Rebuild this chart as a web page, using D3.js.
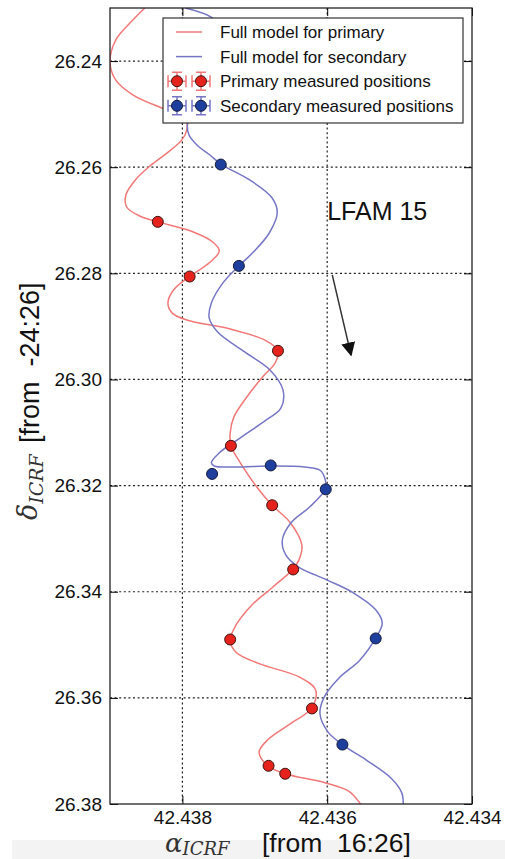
<!DOCTYPE html>
<html>
<head>
<meta charset="utf-8">
<script src="https://cdn.jsdelivr.net/npm/d3@7"></script>
<style>
  html, body { margin: 0; padding: 0; background: #fff; }
  svg { display: block; font-family: "Liberation Sans", Arial, sans-serif; }
  .pre { white-space: pre; }
</style>
</head>
<body>
<div id="chart"></div>
<script>
// axis ticks
const xTicks = [42.438, 42.436, 42.434]
const yTicks = [26.24, 26.26, 26.28, 26.30, 26.32, 26.34, 26.36, 26.38]

// measured positions (alpha seconds, delta arcsec)
const primaryRA  = [42.43834, 42.43790, 42.43668, 42.43733, 42.43676, 42.43647, 42.43734, 42.43621, 42.43681, 42.43658]
const primaryDec = [26.2703, 26.2806, 26.2946, 26.3125, 26.3237, 26.3358, 26.3490, 26.3620, 26.3728, 26.3743]
const secondaryRA  = [42.43747, 42.43722, 42.43678, 42.43759, 42.43602, 42.43533, 42.43579]
const secondaryDec = [26.2595, 26.2786, 26.3162, 26.3178, 26.3207, 26.3488, 26.3688]

// full model tracks
const primaryModelRA = [42.43852, 42.43875, 42.43892, 42.43900, 42.43892, 42.43868, 42.43831, 42.43810, 42.43795, 42.43794,
  42.43801, 42.43821, 42.43845, 42.43865, 42.43878, 42.43877, 42.43859, 42.43834, 42.43785, 42.43758,
  42.43749, 42.43762, 42.43791, 42.43812, 42.43820, 42.43814, 42.43794, 42.43734, 42.43686, 42.43668,
  42.43672, 42.43689, 42.43711, 42.43729, 42.43734, 42.43733, 42.43720, 42.43697, 42.43676, 42.43651,
  42.43635, 42.43639, 42.43647, 42.43675, 42.43704, 42.43726, 42.43734, 42.43726, 42.43693, 42.43638,
  42.43616, 42.43621, 42.43651, 42.43682, 42.43694, 42.43682, 42.43658, 42.43603, 42.43569, 42.43552]
const primaryModelDec = [26.2300, 26.2332, 26.2360, 26.2402, 26.2436, 26.2464, 26.2487, 26.2498, 26.2513, 26.2530,
  26.2549, 26.2573, 26.2598, 26.2624, 26.2652, 26.2675, 26.2692, 26.2703, 26.2722, 26.2741,
  26.2758, 26.2779, 26.2807, 26.2831, 26.2856, 26.2875, 26.2888, 26.2905, 26.2926, 26.2946,
  26.2969, 26.2995, 26.3033, 26.3071, 26.3101, 26.3125, 26.3157, 26.3203, 26.3237, 26.3270,
  26.3312, 26.3340, 26.3357, 26.3391, 26.3425, 26.3463, 26.3491, 26.3514, 26.3536, 26.3561,
  26.3585, 26.3619, 26.3649, 26.3679, 26.3702, 26.3728, 26.3743, 26.3760, 26.3777, 26.3804]

const secondaryModelRA = [42.43796, 42.43758, 42.43731, 42.43734, 42.43769, 42.43792, 42.43791, 42.43780, 42.43762, 42.43747,
  42.43707, 42.43676, 42.43669, 42.43680, 42.43702, 42.43722, 42.43744, 42.43760, 42.43763, 42.43751,
  42.43714, 42.43679, 42.43661, 42.43664, 42.43686, 42.43720, 42.43748, 42.43760, 42.43756, 42.43727,
  42.43678, 42.43631, 42.43609, 42.43602, 42.43602, 42.43624, 42.43650, 42.43662, 42.43657, 42.43640,
  42.43600, 42.43564, 42.43533, 42.43524, 42.43533, 42.43555, 42.43584, 42.43604, 42.43610, 42.43599,
  42.43578, 42.43544, 42.43512, 42.43497, 42.43495]
const secondaryModelDec = [26.2300, 26.2319, 26.2360, 26.2426, 26.2483, 26.2515, 26.2539, 26.2558, 26.2577, 26.2594,
  26.2624, 26.2658, 26.2686, 26.2724, 26.2760, 26.2786, 26.2818, 26.2856, 26.2884, 26.2911,
  26.2948, 26.2982, 26.3020, 26.3054, 26.3078, 26.3110, 26.3137, 26.3157, 26.3163, 26.3165,
  26.3163, 26.3165, 26.3172, 26.3193, 26.3206, 26.3240, 26.3270, 26.3303, 26.3331, 26.3353,
  26.3378, 26.3402, 26.3434, 26.3459, 26.3487, 26.3529, 26.3563, 26.3598, 26.3630, 26.3664,
  26.3689, 26.3719, 26.3751, 26.3779, 26.3804]

const legendLabels = ["Full model for primary", "Full model for secondary",
  "Primary measured positions", "Secondary measured positions"]

// proper motion arrow (start, end) and source label
const arrowRA = [42.43593, 42.43567]
const arrowDec = [26.2803, 26.2954]
const sourceName = "LFAM 15"

const W = 505, H = 859
const margin = {top: 8, right: 33, bottom: 55, left: 110}

const redLine = "#f27878", blueLine = "#7676c6"
const redDot = "#e5221c", blueDot = "#1f3f9e"

const x = d3.scaleLinear().domain([42.439, 42.434]).range([margin.left, W - margin.right])
const y = d3.scaleLinear().domain([26.23, 26.38]).range([margin.top, H - margin.bottom])

const svg = d3.select("#chart").append("svg")
    .attr("width", W)
    .attr("height", H)

svg.append("rect")
    .attr("width", W).attr("height", H).attr("fill", "#fff")

// light strip behind x label (from the screenshot)
svg.append("rect")
    .attr("x", 12).attr("y", 840)
    .attr("width", W - 12).attr("height", H - 840)
    .attr("fill", "#f3f3f3")

svg.append("defs").append("clipPath").attr("id", "plotclip")
  .append("rect")
    .attr("x", x.range()[0]).attr("y", y.range()[0])
    .attr("width", x.range()[1] - x.range()[0])
    .attr("height", y.range()[1] - y.range()[0])

svg.select("defs").append("marker")
    .attr("id", "head")
    .attr("viewBox", "0 0 10 10")
    .attr("refX", 9).attr("refY", 5)
    .attr("markerWidth", 14).attr("markerHeight", 14)
    .attr("markerUnits", "userSpaceOnUse")
    .attr("orient", "auto")
  .append("path")
    .attr("d", "M0,0L10,5L0,10Z")
    .attr("fill", "#111")

// grid
const grid = svg.append("g")
    .attr("stroke", "#222")
    .attr("stroke-width", 1.2)
    .attr("stroke-dasharray", "2,2.6")
grid.selectAll(".hg").data(yTicks.slice(0, -1)).enter().append("line")
    .attr("x1", x.range()[0]).attr("x2", x.range()[1])
    .attr("y1", d => y(d)).attr("y2", d => y(d))
grid.selectAll(".vg").data(xTicks.slice(0, -1)).enter().append("line")
    .attr("y1", y.range()[0]).attr("y2", y.range()[1])
    .attr("x1", d => x(d)).attr("x2", d => x(d))

// axes, ticks inward
const fontAxis = (g) => g.attr("font-family", "Liberation Sans, Arial, sans-serif").attr("font-size", 19)
  .call(g => g.select(".domain").remove())
  .call(g => g.selectAll("text").attr("fill", "#111"))

svg.append("g")
    .attr("transform", `translate(${x.range()[0]},0)`)
    .call(d3.axisLeft(y).tickValues(yTicks).tickFormat(d3.format(".2f")).tickSize(-8).tickPadding(8))
    .call(fontAxis)
svg.append("g")
    .attr("transform", `translate(${x.range()[1]},0)`)
    .call(d3.axisRight(y).tickValues(yTicks).tickFormat("").tickSize(-8))
    .call(fontAxis)
svg.append("g")
    .attr("transform", `translate(0,${y.range()[1]})`)
    .call(d3.axisBottom(x).tickValues(xTicks).tickFormat(d3.format(".3f")).tickSize(-8).tickPadding(7))
    .call(fontAxis)
svg.append("g")
    .attr("transform", `translate(0,${y.range()[0]})`)
    .call(d3.axisTop(x).tickValues(xTicks).tickFormat("").tickSize(-8))
    .call(fontAxis)

// model curves + points
const plot = svg.append("g").attr("clip-path", "url(#plotclip)")

const line = d3.line()
    .x(d => x(d[0]))
    .y(d => y(d[1]))
    .curve(d3.curveCatmullRom.alpha(0.5))

plot.append("path")
    .datum(primaryModelRA.map((d, i) => [d, primaryModelDec[i]]))
    .attr("d", line)
    .attr("fill", "none")
    .attr("stroke", redLine)
    .attr("stroke-width", 1.5)

plot.append("path")
    .datum(secondaryModelRA.map((d, i) => [d, secondaryModelDec[i]]))
    .attr("d", line)
    .attr("fill", "none")
    .attr("stroke", blueLine)
    .attr("stroke-width", 1.5)

plot.selectAll(".pdot")
    .data(primaryRA.map((d, i) => [d, primaryDec[i]]))
    .enter().append("circle")
    .attr("cx", d => x(d[0]))
    .attr("cy", d => y(d[1]))
    .attr("r", 5.5)
    .attr("fill", redDot)
    .attr("stroke", "#3a1512")
    .attr("stroke-width", 1)

plot.selectAll(".sdot")
    .data(secondaryRA.map((d, i) => [d, secondaryDec[i]]))
    .enter().append("circle")
    .attr("cx", d => x(d[0]))
    .attr("cy", d => y(d[1]))
    .attr("r", 5.5)
    .attr("fill", blueDot)
    .attr("stroke", "#111a3a")
    .attr("stroke-width", 1)

// arrow and label
svg.append("line")
    .attr("x1", x(arrowRA[0])).attr("y1", y(arrowDec[0]))
    .attr("x2", x(arrowRA[1])).attr("y2", y(arrowDec[1]))
    .attr("stroke", "#333")
    .attr("stroke-width", 1.5)
    .attr("marker-end", "url(#head)")

svg.append("text")
    .attr("x", x(42.436)).attr("y", y(26.270))
    .attr("font-size", 25)
    .attr("fill", "#111")
    .text(sourceName)

// frame
svg.append("rect")
    .attr("x", x.range()[0]).attr("y", y.range()[0])
    .attr("width", x.range()[1] - x.range()[0])
    .attr("height", y.range()[1] - y.range()[0])
    .attr("fill", "none")
    .attr("stroke", "#222")
    .attr("stroke-width", 1.3)

// legend
const lg = svg.append("g").attr("transform", "translate(163,18)")
lg.append("rect")
    .attr("width", 300).attr("height", 105)
    .attr("fill", "#fff")
    .attr("stroke", "#333")
    .attr("stroke-width", 1.2)

const rowY = i => 14 + i * 24.6
lg.append("line").attr("x1", 13).attr("x2", 39).attr("y1", rowY(0)).attr("y2", rowY(0))
    .attr("stroke", redLine).attr("stroke-width", 1.5)
lg.append("line").attr("x1", 13).attr("x2", 39).attr("y1", rowY(1)).attr("y2", rowY(1))
    .attr("stroke", blueLine).attr("stroke-width", 1.5)

;[[2, redLine, redDot, "#3a1512"], [3, blueLine, blueDot, "#111a3a"]].forEach(([row, ec, fc, sc]) => {
  ;[14, 38].forEach(cx => {
    const g = lg.append("g").attr("transform", `translate(${cx},${rowY(row)})`)
    g.append("path")
        .attr("d", "M-9,0H9M-9,-6V6M9,-6V6M0,-9V9M-5,-9H5M-5,9H5")
        .attr("stroke", ec).attr("stroke-width", 1.5).attr("fill", "none")
    g.append("circle").attr("r", 5.5).attr("fill", fc).attr("stroke", sc).attr("stroke-width", 1)
  })
})

lg.selectAll(".lt").data(legendLabels).enter().append("text")
    .attr("x", 57)
    .attr("y", (d, i) => rowY(i))
    .attr("dy", "0.35em")
    .attr("font-size", 17)
    .attr("fill", "#111")
    .text(d => d)

// axis labels
const xl = svg.append("text").attr("class", "pre").attr("y", 852).attr("fill", "#333")
xl.append("tspan").attr("x", 165).attr("font-family", "DejaVu Serif").attr("font-style", "italic").attr("font-size", 26).text("α")
xl.append("tspan").attr("dy", 2.5).attr("font-family", "DejaVu Serif").attr("font-style", "italic").attr("font-size", 18).text("ICRF")
xl.append("tspan").attr("x", 262).attr("dy", -2.5).attr("font-size", 26.5).attr("fill", "#111").text("[from  16:26]")

const yl = svg.append("g").attr("transform", "translate(37,0) rotate(-90)")
  .append("text").attr("class", "pre").attr("fill", "#333")
yl.append("tspan").attr("x", -520).attr("font-family", "DejaVu Serif").attr("font-style", "italic").attr("font-size", 27).text("δ")
yl.append("tspan").attr("dy", 6).attr("font-family", "DejaVu Serif").attr("font-style", "italic").attr("font-size", 19).text("ICRF")
yl.append("tspan").attr("x", -443).attr("dy", -4).attr("font-size", 27).attr("fill", "#111").text("[from  -24:26]")
</script>
</body>
</html>
